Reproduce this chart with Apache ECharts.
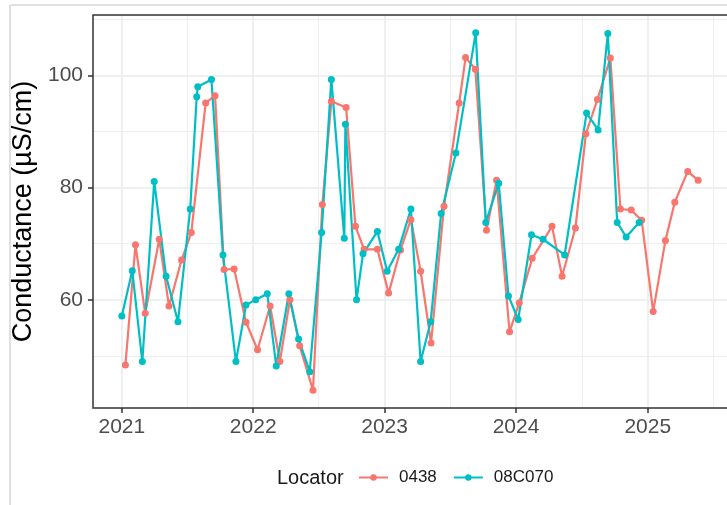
<!DOCTYPE html>
<html>
<head>
<meta charset="utf-8">
<script src="https://cdn.jsdelivr.net/npm/echarts@6/dist/echarts.min.js"></script>
<style>
  html, body { margin: 0; padding: 0; background: #fff; }
  #main { width: 727px; height: 505px; }
</style>
</head>
<body>
<div id="main"></div>
<script>
// Conductance by locator
var dates0438 = ['2021-01-11','2021-02-08','2021-03-07','2021-04-15','2021-05-12','2021-06-16','2021-07-13','2021-08-22','2021-09-17','2021-10-12','2021-11-09','2021-12-12',
  '2022-01-13','2022-02-17','2022-03-16','2022-04-13','2022-05-10','2022-06-16','2022-07-12','2022-08-06','2022-09-16','2022-10-12','2022-11-05','2022-12-12',
  '2023-01-12','2023-02-14','2023-03-15','2023-04-11','2023-05-10','2023-06-15','2023-07-27','2023-08-14','2023-09-10','2023-10-11','2023-11-08','2023-12-14',
  '2024-01-10','2024-02-15','2024-04-10','2024-05-08','2024-06-14','2024-07-13','2024-08-14','2024-09-19','2024-10-17','2024-11-16','2024-12-15',
  '2025-01-16','2025-02-19','2025-03-17','2025-04-22','2025-05-21'];
var cond0438 = [48.4,69.8,57.6,70.8,58.9,67.1,72.0,95.1,96.4,65.4,65.5,56.0,
  51.1,58.9,49.0,60.0,51.8,43.9,77.0,95.4,94.3,73.1,69.0,69.0,
  61.2,68.9,74.3,65.1,52.3,76.7,95.1,103.2,101.1,72.4,81.3,54.3,
  59.5,67.4,73.1,64.2,72.8,89.6,95.7,103.1,76.2,76.0,74.2,
  57.9,70.6,77.4,82.9,81.3];

var dates08C070 = ['2021-01-01','2021-01-30','2021-02-27','2021-04-01','2021-05-04','2021-06-06','2021-07-10','2021-07-28','2021-07-31','2021-09-07','2021-10-09','2021-11-14','2021-12-12',
  '2022-01-08','2022-02-09','2022-03-06','2022-04-10','2022-05-07','2022-06-07','2022-07-10','2022-08-06','2022-09-11','2022-09-14','2022-10-15','2022-11-02','2022-12-12',
  '2023-01-08','2023-02-09','2023-03-15','2023-04-11','2023-05-09','2023-06-07','2023-07-18','2023-09-11','2023-10-09','2023-11-14','2023-12-11',
  '2024-01-07','2024-02-13','2024-03-16','2024-05-15','2024-07-15','2024-08-16','2024-09-12','2024-10-08','2024-11-02','2024-12-08'];
var cond08C070 = [57.1,65.2,49.0,81.1,64.2,56.1,76.2,96.2,98.0,99.3,68.0,49.0,59.1,
  60.0,61.1,48.2,61.1,53.0,47.2,72.0,99.3,71.0,91.3,60.0,68.2,72.2,
  65.1,69.0,76.2,49.0,56.1,75.4,86.2,107.6,73.8,80.8,60.7,
  56.5,71.6,70.8,68.0,93.3,90.3,107.5,73.8,71.2,73.8];

var xMajor = ['2021-01-01','2022-01-01','2023-01-01','2024-01-01','2025-01-01'];
var xMinor = ['2021-07-02','2022-07-02','2023-07-02','2024-07-02','2025-07-02'];
var yMajor = [60, 80, 100];
var yMinor = [50, 70, 90, 110];

function ts(s) { var p = s.split('-'); return new Date(+p[0], +p[1] - 1, +p[2]).getTime(); }
function pairs(d, v) { return d.map(function (s, i) { return [ts(s), v[i]]; }); }

// ggplot style 5% expansion
var allT = dates0438.concat(dates08C070).map(ts);
var allV = cond0438.concat(cond08C070);
var tMin = Math.min.apply(null, allT), tMax = Math.max.apply(null, allT);
var vMin = Math.min.apply(null, allV), vMax = Math.max.apply(null, allV);
var tPad = (tMax - tMin) * 0.05, vPad = (vMax - vMin) * 0.05;

var font = 'Liberation Sans, Arial, sans-serif';
var chart = echarts.init(document.getElementById('main'));

chart.setOption({
  animation: false,
  backgroundColor: '#fff',
  textStyle: { fontFamily: font },
  title: {
    text: 'Locator', left: 277, top: 468, padding: 0,
    textStyle: { fontSize: 20, fontWeight: 'normal', color: '#1a1a1a', fontFamily: font }
  },
  legend: {
    left: 358, top: 469, padding: 0, itemWidth: 29, itemHeight: 8, itemGap: 16,
    textStyle: { fontSize: 17, color: '#1a1a1a', padding: [0, 0, 0, 6], fontFamily: font },
    data: ['0438', '08C070']
  },
  grid: { left: 93, top: 15, right: -9.5, bottom: 97, containLabel: false },
  xAxis: [{
    type: 'value', min: tMin - tPad, max: tMax + tPad,
    axisLine: { show: false },
    axisTick: { show: true, length: 5, lineStyle: { color: '#333', width: 1.5 }, customValues: xMajor.map(ts) },
    axisLabel: { customValues: xMajor.map(ts), fontSize: 21, color: '#4d4d4d', margin: 9, fontFamily: font,
      formatter: function (v) { return String(new Date(v).getFullYear()); } },
    splitLine: { show: true, lineStyle: { color: '#ebebeb', width: 1.6 } }
  }, {
    type: 'value', min: tMin - tPad, max: tMax + tPad, position: 'bottom',
    axisLine: { show: false },
    axisTick: { show: false, customValues: xMinor.map(ts) },
    axisLabel: { show: false },
    splitLine: { show: true, lineStyle: { color: '#efefef', width: 1.2 } }
  }],
  yAxis: [{
    type: 'value', min: vMin - vPad, max: vMax + vPad,
    name: 'Conductance (\u00b5S/cm)', nameLocation: 'middle', nameGap: 50,
    nameTextStyle: { fontSize: 27, color: '#000', fontFamily: font },
    axisLine: { show: false },
    axisTick: { show: true, length: 5, lineStyle: { color: '#333', width: 1.5 }, customValues: yMajor },
    axisLabel: { customValues: yMajor, fontSize: 21, color: '#4d4d4d', margin: 10, fontFamily: font },
    splitLine: { show: true, lineStyle: { color: '#ebebeb', width: 1.6 } }
  }, {
    type: 'value', min: vMin - vPad, max: vMax + vPad, position: 'left',
    axisLine: { show: false },
    axisTick: { show: false, customValues: yMinor },
    axisLabel: { show: false },
    splitLine: { show: true, lineStyle: { color: '#efefef', width: 1.2 } }
  }],
  graphic: [
    // panel border (right side falls outside the window, as in the source)
    { type: 'rect', shape: { x: 93, y: 15, width: 660, height: 393 }, style: { fill: 'none', stroke: '#333', lineWidth: 1.5 }, z: 10 },
    // light screenshot frame
    { type: 'line', shape: { x1: 10, y1: 5, x2: 10, y2: 505 }, style: { stroke: '#e0e0e0', lineWidth: 2 } },
    { type: 'line', shape: { x1: 10, y1: 5, x2: 727, y2: 5 }, style: { stroke: '#e0e0e0', lineWidth: 2 } }
  ],
  series: [{
    name: '0438', type: 'line', data: pairs(dates0438, cond0438),
    symbol: 'circle', symbolSize: 7, showSymbol: true,
    itemStyle: { color: '#F8766D' }, lineStyle: { color: '#F8766D', width: 2.2 }
  }, {
    name: '08C070', type: 'line', data: pairs(dates08C070, cond08C070),
    symbol: 'circle', symbolSize: 7, showSymbol: true,
    itemStyle: { color: '#00BFC4' }, lineStyle: { color: '#00BFC4', width: 2.2 }
  }]
});
</script>
</body>
</html>
